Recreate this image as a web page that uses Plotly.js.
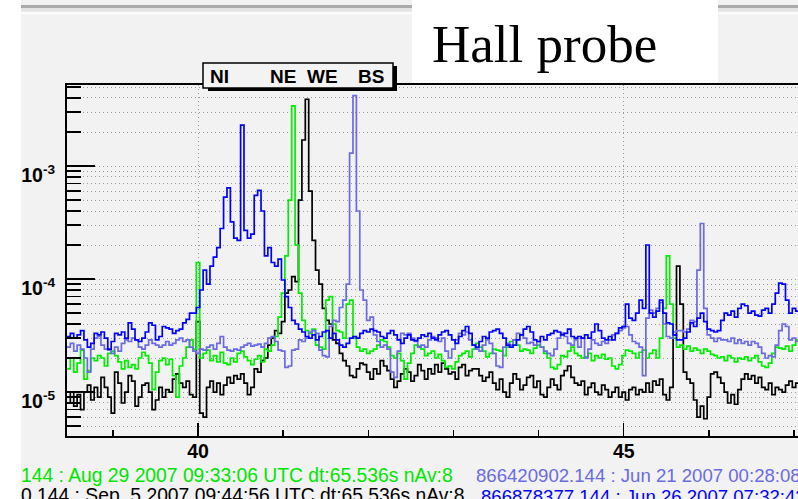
<!DOCTYPE html>
<html>
<head>
<meta charset="utf-8">
<script src="https://cdn.plot.ly/plotly-3.0.1.min.js"></script>
<style>
  html, body { margin: 0; padding: 0; overflow: hidden; background: #f2f2f2; }
  #chart { width: 798px; height: 499px; }
</style>
</head>
<body>
<div id="chart"></div>
<script>
// Spectrum bins: left edge of first bin and bin width (Hz)
const F0 = 38.46;
const DF = 0.04;
// Amplitudes are listed in units of 1e-5
const UNIT = 1e-5;

// Sep 5 2007 run (black)
const black = [
  0.8, 1.0, 0.75, 0.95, 0.7, 1.0, 1.15, 0.85, 1.1, 0.9,
  1.35, 1.1, 0.9, 0.65, 1.5, 1.2, 0.8, 1.0, 1.4, 1.25,
  0.75, 0.9, 1.15, 1.2, 1.0, 0.7, 0.85, 1.1, 0.9, 1.05,
  1.0, 1.3, 1.45, 1.2, 1.1, 1.25, 0.95, 0.9, 4.2, 0.65,
  0.6, 1.1, 1.25, 1.0, 1.2, 0.95, 1.15, 1.35, 1.2, 1.4,
  1.3, 1.45, 1.2, 0.95, 1.1, 1.6, 1.5, 1.9, 2.0, 2.6,
  3.0, 3.5, 3.3, 4.2, 7.5, 8.0, 10.5, 9.5, 50, 170,
  390, 60, 22, 12, 9, 5.5, 4.3, 4.0, 2.9, 2.7,
  2.2, 1.9, 1.7, 1.4, 1.35, 1.6, 1.8, 1.75, 1.5, 1.3,
  1.6, 1.45, 1.9, 1.7, 1.55, 1.3, 1.1, 1.25, 1.45, 1.6,
  1.5, 1.25, 1.4, 1.75, 1.55, 1.3, 1.6, 1.45, 1.75, 1.5,
  1.8, 1.6, 1.45, 1.5, 1.3, 1.65, 1.75, 1.4, 1.55, 1.6,
  1.6, 1.4, 1.25, 1.35, 1.5, 1.2, 1.05, 1.3, 1.0, 0.9,
  1.2, 1.45, 1.3, 1.05, 1.15, 1.35, 1.4, 1.1, 1.25, 0.95,
  0.9, 1.1, 1.3, 1.15, 1.05, 1.4, 1.55, 1.7, 1.35, 1.2,
  1.15, 1.25, 0.95, 1.1, 1.2, 1.0, 0.95, 1.15, 1.05, 0.9,
  1.0, 1.1, 0.9, 1.0, 0.85, 1.05, 1.1, 0.95, 1.05, 1.0,
  1.2, 1.0, 1.25, 1.15, 1.3, 0.95, 0.85, 1.1, 3.2, 13,
  6.0, 1.5, 1.3, 1.2, 0.85, 0.6, 0.75, 0.58, 0.9, 1.45,
  1.5, 1.35, 1.2, 1.0, 0.8, 0.95, 0.78, 1.05, 1.3, 1.45,
  1.3, 1.4, 1.2, 1.35, 1.1, 1.05, 1.2, 0.95, 1.1, 1.05,
  1.0, 1.15, 1.25, 1.1, 1.2, 1.15
];

// Aug 29 2007 run (green)
const green = [
  1.6, 2.0, 1.5, 1.8, 2.35, 1.3, 1.55, 2.0, 1.9, 2.1,
  2.0, 1.7, 2.2, 2.3, 2.1, 1.85, 1.6, 1.9, 1.65, 1.75,
  1.6, 2.0, 2.25, 2.1, 1.8, 1.05, 1.5, 1.9, 2.0, 1.75,
  1.95, 1.4, 0.9, 1.7, 2.0, 2.5, 2.9, 2.4, 14, 2.0,
  2.2, 2.35, 1.9, 2.1, 1.85, 2.25, 1.8, 1.75, 2.0, 1.85,
  2.2, 2.3, 2.05, 1.9, 1.75, 1.95, 2.1, 1.85, 2.4, 2.3,
  2.6, 3.1, 4.6, 7.5, 16, 50, 340, 20, 7.5, 4.3,
  3.5, 3.3, 3.6, 2.6, 2.5, 2.4, 6.5, 7.0, 4.0, 3.5,
  3.4, 3.0, 6.0, 6.5, 3.0, 2.5, 2.3, 2.4, 2.2, 2.3,
  2.4, 2.6, 2.9, 2.8, 2.5, 2.1, 2.0, 2.2, 1.9, 1.3,
  1.8, 2.2, 2.6, 2.55, 2.4, 2.1, 2.2, 2.3, 2.0, 2.15,
  1.9, 1.65, 1.7, 1.6, 1.85, 2.1, 2.2, 2.3, 2.05, 2.4,
  2.7, 2.5, 2.3, 2.05, 2.2, 2.4, 2.35, 2.3, 2.1, 2.5,
  2.8, 2.9, 2.6, 2.3, 2.4, 2.35, 2.2, 2.45, 2.6, 2.5,
  2.2, 2.0, 1.65, 1.6, 1.75, 2.1, 2.05, 2.3, 2.5, 2.2,
  2.1, 2.0, 2.05, 2.2, 1.9, 2.1, 2.0, 2.15, 1.95, 2.0,
  1.7, 1.6, 1.75, 2.1, 2.35, 2.3, 2.2, 2.0, 2.25, 2.35,
  2.0, 2.2, 2.35, 2.0, 3.0, 5.5, 16, 6.0, 3.0, 2.5,
  2.6, 2.4, 2.55, 2.3, 2.45, 2.35, 2.2, 2.4, 2.3, 2.15,
  2.1, 2.0, 2.05, 1.9, 2.1, 2.0, 1.85, 2.0, 1.95, 2.05,
  1.9, 2.0, 2.1, 1.85, 1.7, 1.65, 1.8, 2.2, 2.5, 2.45,
  2.4, 2.55, 2.3, 2.6, 2.9, 2.8
];

// Jun 21 2007 run (slate blue)
const slate = [
  2.5, 2.7, 2.3, 2.6, 2.4, 2.0, 1.5, 2.4, 3.0, 3.1,
  2.6, 2.4, 2.35, 2.2, 2.5, 2.3, 2.7, 2.9, 2.8, 3.0,
  2.9, 2.5, 2.4, 2.6, 2.9, 2.7, 2.6, 2.5, 2.6, 2.8,
  2.6, 2.7, 2.9, 3.0, 2.8, 2.9, 2.5, 2.3, 2.2, 2.4,
  2.35, 2.5, 2.6, 2.4, 2.7, 3.1, 2.5, 2.35, 2.3, 2.4,
  2.35, 2.5, 2.6, 2.7, 2.55, 2.6, 2.65, 2.5, 2.7, 3.0,
  3.1, 2.8, 2.35, 2.3, 1.65, 1.7, 2.35, 2.4, 2.9, 2.8,
  3.0, 3.4, 3.5, 3.3, 2.35, 2.1, 2.05, 3.8, 4.3, 4.2,
  5.6, 6.5, 9, 130, 420, 40, 8, 6.5, 4.3, 4.6,
  3.2, 2.8, 2.5, 2.6, 2.4, 1.5, 1.35, 2.3, 3.3, 3.2,
  3.3, 3.0, 2.8, 2.5, 2.6, 2.5, 2.9, 3.1, 3.0, 2.8,
  3.0, 2.3, 2.0, 2.4, 2.9, 3.3, 3.2, 3.4, 2.9, 2.6,
  2.4, 2.3, 2.6, 2.9, 2.7, 2.2, 1.7, 1.65, 2.5, 2.7,
  2.6, 2.9, 3.3, 3.2, 3.0, 2.7, 2.75, 2.6, 2.8, 2.5,
  2.3, 2.2, 2.1, 2.4, 3.0, 3.3, 3.1, 2.7, 2.6, 2.9,
  2.5, 3.0, 2.0, 2.4, 2.9, 2.7, 2.6, 2.8, 2.7, 2.9,
  3.2, 3.3, 3.5, 3.7, 3.8, 3.2, 2.8, 2.7, 2.5, 1.4,
  4.5, 5.3, 5.0, 5.5, 6.2, 4.0, 3.1, 3.0, 3.4, 3.5,
  3.5, 3.4, 3.6, 4.3, 4.2, 12, 31, 5.5, 3.2, 3.0,
  2.8, 3.0, 2.9, 2.9, 2.8, 3.0, 2.7, 2.9, 2.7, 2.8,
  2.6, 2.8, 2.7, 2.5, 2.2, 2.0, 2.1, 2.05, 2.6, 3.5,
  4.0, 3.8, 2.9, 3.0, 2.8, 2.9
];

// Jun 26 2007 run (blue)
const blue = [
  3.1, 3.3, 3.0, 3.2, 3.5, 2.9, 2.5, 2.7, 3.3, 3.2,
  3.4, 3.0, 2.4, 2.8, 3.3, 3.2, 3.4, 3.0, 4.1, 3.6,
  2.9, 2.8, 3.0, 3.4, 4.1, 3.9, 2.9, 3.1, 3.8, 3.7,
  3.6, 3.3, 3.5, 3.6, 4.1, 4.4, 5.0, 5.0, 5.6, 8.0,
  12, 9, 13, 15.6, 19, 28, 53, 64, 32, 23,
  22, 230, 27, 23, 25, 55, 61, 40, 16, 19,
  14, 13, 15, 9.8, 7.0, 5.6, 4.3, 4.0, 3.6, 3.4,
  3.1, 3.0, 3.2, 2.9, 3.1, 3.4, 3.5, 3.0, 3.3, 2.9,
  2.6, 2.5, 2.7, 3.0, 3.1, 3.0, 3.3, 3.5, 3.4, 3.6,
  3.5, 3.4, 3.1, 3.0, 3.3, 3.5, 3.2, 2.9, 2.7, 3.0,
  3.2, 2.9, 2.85, 3.0, 3.2, 3.1, 3.3, 3.0, 2.9, 3.2,
  3.4, 3.5, 3.2, 2.9, 2.7, 3.1, 3.5, 3.8, 3.3, 2.6,
  2.5, 2.8, 3.1, 3.0, 3.4, 3.5, 3.6, 3.3, 3.0, 2.6,
  2.5, 2.6, 2.9, 3.2, 3.6, 3.8, 3.4, 2.9, 2.8, 3.1,
  2.9, 3.2, 3.3, 3.5, 3.4, 3.2, 3.3, 3.6, 3.1, 3.0,
  3.1, 3.0, 3.2, 3.0, 3.4, 4.0, 3.5, 3.0, 2.9, 3.1,
  2.9, 3.3, 3.7, 3.8, 6.0, 4.5, 4.3, 5.0, 6.5, 5.5,
  20, 5.0, 4.6, 5.2, 6.5, 5.0, 4.1, 4.0, 3.2, 2.9,
  2.9, 3.0, 3.4, 4.1, 3.8, 4.5, 5.0, 4.2, 3.6, 3.5,
  3.4, 3.5, 4.3, 5.0, 4.8, 5.2, 4.6, 5.5, 6.0, 5.8,
  5.0, 5.2, 4.8, 4.7, 5.3, 5.5, 5.0, 6.0, 7.5, 9.2,
  9.0, 6.5, 5.0, 5.5, 5.2, 5.0
];

// Line markers across the top and run stamps along the bottom
const lineLabels = ['NI', 'NE', 'WE', 'BS'];
const stampsLeft = [
  '144 : Aug 29 2007 09:33:06 UTC dt:65.536s nAv:8',
  '0.144 : Sep \u00a05 2007 09:44:56 UTC dt:65.536s nAv:8'
];
const stampsRight = [
  '866420902.144 : Jun 21 2007 00:28:08 UTC dt:65.536s nAv:8',
  '866878377.144 : Jun 26 2007 07:32:43 UTC dt:65.536s nAv:8'
];
const yMajor = [1e-5, 1e-4, 1e-3];
const yMajorText = ['10<sup>-5</sup>', '10<sup>-4</sup>', '10<sup>-3</sup>'];
const yMinor = [5e-6, 6e-6, 7e-6, 8e-6, 9e-6,
  2e-5, 3e-5, 4e-5, 5e-5, 6e-5, 7e-5, 8e-5, 9e-5,
  2e-4, 3e-4, 4e-4, 5e-4, 6e-4, 7e-4, 8e-4, 9e-4,
  2e-3, 3e-3, 4e-3, 5e-3];

// ---- page geometry (pixels) ----
const W = 798, H = 499;
const M = { l: 67, r: 0, t: 85, b: 63 };
const PW = W - M.l - M.r, PH = H - M.t - M.b;
const px = x => (x - M.l) / PW;            // pixel -> paper x
const py = y => (H - M.b - y) / PH;        // pixel -> paper y

const freq = black.map((_, i) => +(F0 + i * DF).toFixed(2));
const scale = arr => arr.map(v => v * UNIT);

function stepTrace(vals, color, width) {
  return {
    type: 'scatter', mode: 'lines', x: freq, y: scale(vals),
    line: { shape: 'hv', color: color, width: width },
    hoverinfo: 'skip', showlegend: false
  };
}

const traces = [
  stepTrace(black, '#000000', 1.7),
  stepTrace(green, '#00ee00', 1.7),
  stepTrace(slate, '#6a6ae2', 1.7),
  stepTrace(blue, '#0000ff', 1.7)
];

const sansBold = { family: 'Liberation Sans, Arial, Helvetica, sans-serif', size: 19.5, color: '#000', weight: 'bold' };
const sans = { family: 'Liberation Sans, Arial, Helvetica, sans-serif', size: 19.3 };

const rect = (x0, y0, x1, y1, fill, line) => ({
  type: 'rect', xref: 'paper', yref: 'paper', layer: 'above',
  x0: px(x0), x1: px(x1), y0: py(y1), y1: py(y0),
  fillcolor: fill, line: line || { width: 0 }
});

const shapes = [
  rect(21, 5, W, 8, '#ababab'),
  rect(21, 8, W, 11.5, '#e3e3e3'),
  rect(21, 12.5, W, 14, '#ffffff'),
  rect(412, 0, 718, 83, '#ffffff'),
  rect(208, 66, 397, 91, '#000000'),
  rect(203, 63, 393, 88, '#f3f3f3', { color: '#000', width: 1.5 }),
  rect(0, 0, 21, H, '#ffffff')
];

const labelX = [219, 283, 322, 371];
const annotations = [];
lineLabels.forEach((t, i) => annotations.push({
  xref: 'paper', yref: 'paper', x: px(labelX[i]), y: py(77),
  xanchor: 'center', yanchor: 'middle', showarrow: false,
  text: t, font: Object.assign({}, sansBold, { size: 19 })
}));
annotations.push({
  xref: 'paper', yref: 'paper', x: px(430), y: py(44),
  xanchor: 'left', yanchor: 'middle', showarrow: false,
  text: 'Hall probe',
  font: { family: 'Liberation Serif, Times New Roman, serif', size: 53, color: '#000' }
});
annotations.push(
  { xref: 'paper', yref: 'paper', x: px(19), y: py(475), xanchor: 'left', yanchor: 'middle',
    showarrow: false, text: stampsLeft[0], font: Object.assign({}, sans, { color: '#00e600' }) },
  { xref: 'paper', yref: 'paper', x: px(19), y: py(495), xanchor: 'left', yanchor: 'middle',
    showarrow: false, text: stampsLeft[1], font: Object.assign({}, sans, { color: '#000000' }) },
  { xref: 'paper', yref: 'paper', x: px(474), y: py(476), xanchor: 'left', yanchor: 'middle',
    showarrow: false, text: stampsRight[0], font: Object.assign({}, sans, { size: 18.6, color: '#6a6ae2' }) },
  { xref: 'paper', yref: 'paper', x: px(479), y: py(496), xanchor: 'left', yanchor: 'middle',
    showarrow: false, text: stampsRight[1], font: Object.assign({}, sans, { size: 18.6, color: '#0000ff' }) }
);

const layout = {
  width: W, height: H, margin: M,
  paper_bgcolor: '#f2f2f2', plot_bgcolor: '#f2f2f2',
  showlegend: false,
  xaxis: {
    type: 'linear', range: [38.461, 47.047],
    showline: true, mirror: true, linecolor: '#000', linewidth: 2,
    tickmode: 'array', tickvals: [40, 45], ticktext: ['40', '45'],
    ticks: 'inside', ticklen: 13, tickwidth: 1.5, tickcolor: '#000',
    tickfont: sansBold, ticklabelstandoff: -3,
    showgrid: true, gridcolor: '#9a9a9a', griddash: '1px,3px', gridwidth: 1,
    minor: { tickmode: 'array', tickvals: [39, 41, 42, 43, 44, 46, 47], ticks: 'inside', ticklen: 6, tickwidth: 1.5, tickcolor: '#000', showgrid: false },
    zeroline: false, fixedrange: true
  },
  yaxis: {
    type: 'log', range: [-5.389, -2.283],
    showline: true, mirror: false, linecolor: '#000', linewidth: 2,
    tickmode: 'array', tickvals: yMajor, ticktext: yMajorText,
    ticks: 'inside', ticklen: 28, tickwidth: 1.5, tickcolor: '#000',
    tickfont: sansBold, ticklabelstandoff: 6, ticklabelshift: 9,
    showgrid: true, gridcolor: '#9a9a9a', griddash: '1px,3px', gridwidth: 1,
    minor: { tickmode: 'array', tickvals: yMinor, ticks: 'inside', ticklen: 14, tickwidth: 1.5, tickcolor: '#000',
             showgrid: true, gridcolor: '#9a9a9a', griddash: '1px,3px', gridwidth: 1 },
    zeroline: false, fixedrange: true
  },
  shapes: shapes,
  annotations: annotations
};

Plotly.newPlot('chart', traces, layout, { displayModeBar: false, staticPlot: true });
</script>
</body>
</html>
